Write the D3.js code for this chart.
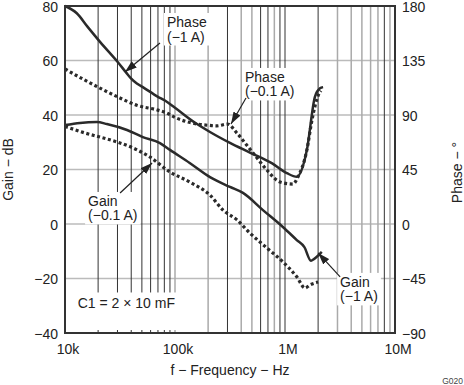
<!DOCTYPE html>
<html>
<head>
<meta charset="utf-8">
<script src="https://cdn.jsdelivr.net/npm/d3@7"></script>
<style>
  body { margin: 0; background: #fff; }
  text { font-family: "Liberation Sans", Arial, sans-serif; fill: #222; }
</style>
</head>
<body>
<div id="chart"></div>
<script>
// axis ticks and labels
var gainTicks = [-40, -20, 0, 20, 40, 60, 80];
var phaseTicks = [-90, -45, 0, 45, 90, 135, 180];
var freqTicks = [1e4, 1e5, 1e6, 1e7];
var freqLabels = ["10k", "100k", "1M", "10M"];

// Phase (-1 A), solid
var phase1F = [10e3, 12.8e3, 16e3, 21e3, 30e3, 36e3, 40e3, 45e3, 51e3, 70e3, 81e3, 100e3, 150e3, 208e3, 316e3, 480e3, 765e3, 1.04e6, 1.28e6, 1.58e6, 1.87e6, 2.08e6, 2.22e6];
var phase1V = [180, 174, 163, 150, 134, 125, 120, 116, 113, 105, 102, 96, 84, 76, 67, 59, 50, 42, 39, 61, 105, 112, 113];

// Phase (-0.1 A), dotted
var phase01F = [10e3, 15e3, 21e3, 30e3, 45e3, 70e3, 84e3, 100e3, 150e3, 200e3, 240e3, 300e3, 366e3, 450e3, 557e3, 684e3, 900e3, 1.18e6, 1.31e6, 1.58e6, 1.76e6, 2.0e6, 2.12e6];
var phase01V = [128, 119, 112, 105, 98, 94, 91.6, 88, 83, 81.5, 81, 82.5, 75, 65, 54.5, 44.6, 34.7, 33, 38.8, 61, 86, 106, 110];

// Gain (-1 A), solid
var gain1F = [10e3, 13.7e3, 19.5e3, 24e3, 36.6e3, 51e3, 73e3, 90e3, 136e3, 208e3, 316e3, 415e3, 630e3, 957e3, 1.28e6, 1.5e6, 1.72e6, 1.78e6, 2.16e6];
var gain1V = [36.3, 37.1, 37.4, 36.7, 34.5, 31.9, 29.7, 27.2, 22.4, 17.2, 13.6, 11.4, 5.1, -1.1, -5.9, -8.5, -13.5, -13.2, -10.2];

// Gain (-0.1 A), dotted
var gain01F = [10e3, 11.1e3, 15.2e3, 20.8e3, 29.7e3, 41.5e3, 59e3, 90e3, 136e3, 208e3, 273e3, 366e3, 479e3, 684e3, 957e3, 1.28e6, 1.52e6, 1.68e6, 2.0e6];
var gain01V = [35.8, 35.2, 33.4, 31.9, 30.1, 27.9, 24.6, 19.1, 15.4, 10.6, 5.1, 1.5, -3.3, -8.8, -13.9, -19.4, -23.5, -22.4, -21.3];

// vertical grid lines that print darker in the original
var darkGrid = [2e4, 3e4, 4e4, 5e4, 6e4, 7e4, 8e4, 9e4, 3e5, 6e5, 7e5, 9e5, 1e6, 2e6, 8e6];

var width = 464, height = 385;
var pL = 65, pR = 395, pT = 6, pB = 333;

var svg = d3.select("#chart").append("svg")
  .attr("width", width)
  .attr("height", height);

var x = d3.scaleLog().domain([1e4, 1e7]).range([pL, pR]);
var yGain = d3.scaleLinear().domain([-40, 80]).range([pB, pT]);
var yPhase = d3.scaleLinear().domain([-90, 180]).range([pB, pT]);

// grid: horizontal
svg.append("g").selectAll("line").data(gainTicks.slice(1, -1)).enter()
  .append("line")
  .attr("x1", pL).attr("x2", pR)
  .attr("y1", function(d) { return yGain(d); })
  .attr("y2", function(d) { return yGain(d); })
  .attr("stroke", "#bbb").attr("stroke-width", 1.5);

// grid: vertical, every minor decade step
var vLines = [];
[1e4, 1e5, 1e6].forEach(function(dec) {
  for (var k = 1; k <= 9; k++) {
    if (dec * k > 1e4) vLines.push(dec * k);
  }
});
function isDark(d) {
  return darkGrid.some(function(g) { return Math.abs(g - d) / d < 1e-6; });
}
svg.append("g").selectAll("line").data(vLines).enter()
  .append("line")
  .attr("x1", function(d) { return x(d); })
  .attr("x2", function(d) { return x(d); })
  .attr("y1", pT).attr("y2", pB)
  .attr("stroke", function(d) { return isDark(d) ? "#333" : "#aaa"; })
  .attr("stroke-width", function(d) { return isDark(d) ? 1 : 1.5; });

// annotations: tip in data space, tail and text offset in pixels
var notes = [
  { lines: ["Phase", "(\u22121 A)"], f: 35.1e3, v: 125.5, axis: "phase", tail: [35, -29], txt: [42, -45] },
  { lines: ["Phase", "(\u22120.1 A)"], f: 323e3, v: 82.6, axis: "phase", tail: [15, -26], txt: [14, -42] },
  { lines: ["Gain", "(\u22120.1 A)"], f: 61.9e3, v: 22.4, axis: "gain", tail: [-32, 30], txt: [-64, 43] },
  { lines: ["Gain", "(\u22121 A)"], f: 2.0e6, v: -10.6, axis: "gain", tail: [22, 24], txt: [22, 34] }
];

var noteG = svg.append("g");
notes.forEach(function(n) {
  var tx = x(n.f), ty = (n.axis === "phase" ? yPhase : yGain)(n.v);
  var g = noteG.append("g");
  var bg = g.append("rect").attr("fill", "#fff");
  var t = g.append("text").attr("font-size", 14);
  n.lines.forEach(function(s, i) {
    t.append("tspan")
      .attr("x", tx + n.txt[0])
      .attr("y", ty + n.txt[1] + i * 14.5)
      .text(s);
  });
  var bb = t.node().getBBox();
  bg.attr("x", bb.x - 3).attr("y", bb.y - 1)
    .attr("width", bb.width + 6).attr("height", bb.height + 2);
  n.px = [tx, ty];
});

// C1 note box
var c1 = svg.append("g");
var c1bg = c1.append("rect").attr("fill", "#fff");
var c1t = c1.append("text")
  .attr("x", x(1.2e4) + 4)
  .attr("y", yGain(-31))
  .attr("font-size", 14)
  .text("C1 = 2 \u00d7 10 mF");
var cb = c1t.node().getBBox();
c1bg.attr("x", cb.x - 5).attr("y", cb.y - 3)
  .attr("width", cb.width + 20).attr("height", pB - 3 - (cb.y - 3));

// curves
function series(fs, vs) {
  return fs.map(function(f, i) { return [f, vs[i]]; });
}
var lineGain = d3.line()
  .x(function(d) { return x(d[0]); })
  .y(function(d) { return yGain(d[1]); })
  .curve(d3.curveMonotoneX);
var linePhase = d3.line()
  .x(function(d) { return x(d[0]); })
  .y(function(d) { return yPhase(d[1]); })
  .curve(d3.curveMonotoneX);

var curves = svg.append("g").attr("fill", "none").attr("stroke", "#2a2a2a");
curves.append("path").attr("d", linePhase(series(phase1F, phase1V))).attr("stroke-width", 2.5);
curves.append("path").attr("d", lineGain(series(gain1F, gain1V))).attr("stroke-width", 2.5);
curves.append("path").attr("d", linePhase(series(phase01F, phase01V)))
  .attr("stroke-width", 3.2).attr("stroke-dasharray", "3,2.6");
curves.append("path").attr("d", lineGain(series(gain01F, gain01V)))
  .attr("stroke-width", 3.2).attr("stroke-dasharray", "3,2.6");

// arrows
svg.append("defs").append("marker")
  .attr("id", "head")
  .attr("viewBox", "0 0 12 8")
  .attr("refX", 12).attr("refY", 4)
  .attr("markerWidth", 12).attr("markerHeight", 8)
  .attr("markerUnits", "userSpaceOnUse")
  .attr("orient", "auto")
  .append("path").attr("d", "M0,0L12,4L0,8Z").attr("fill", "#222");

notes.forEach(function(n) {
  svg.append("line")
    .attr("x1", n.px[0] + n.tail[0]).attr("y1", n.px[1] + n.tail[1])
    .attr("x2", n.px[0]).attr("y2", n.px[1])
    .attr("stroke", "#222").attr("stroke-width", 1.2)
    .attr("marker-end", "url(#head)");
});

// frame
svg.append("rect")
  .attr("x", pL).attr("y", pT)
  .attr("width", pR - pL).attr("height", pB - pT)
  .attr("fill", "none").attr("stroke", "#333").attr("stroke-width", 2);

// tick labels
svg.append("g").selectAll("text").data(gainTicks).enter()
  .append("text")
  .attr("x", pL - 7)
  .attr("y", function(d) { return yGain(d); })
  .attr("dy", "0.42em")
  .attr("text-anchor", "end")
  .attr("font-size", 14)
  .text(function(d) { return d < 0 ? "\u2212" + Math.abs(d) : d; });

svg.append("g").selectAll("text").data(phaseTicks).enter()
  .append("text")
  .attr("x", pR + 7)
  .attr("y", function(d) { return yPhase(d); })
  .attr("dy", "0.42em")
  .attr("font-size", 14)
  .text(function(d) { return d < 0 ? "\u2212" + Math.abs(d) : d; });

svg.append("g").selectAll("text").data(freqTicks).enter()
  .append("text")
  .attr("x", function(d) { return x(d) + 3; })
  .attr("y", pB + 21)
  .attr("text-anchor", "middle")
  .attr("font-size", 14)
  .text(function(d, i) { return freqLabels[i]; });

// axis titles
svg.append("text")
  .attr("transform", "translate(13," + (pT + pB) / 2 + ")rotate(-90)")
  .attr("text-anchor", "middle")
  .attr("font-size", 14)
  .text("Gain \u2212 dB");

svg.append("text")
  .attr("transform", "translate(462," + ((pT + pB) / 2 + 3) + ")rotate(-90)")
  .attr("text-anchor", "middle")
  .attr("font-size", 14)
  .text("Phase \u2212 \u00b0");

svg.append("text")
  .attr("x", (pL + pR) / 2)
  .attr("y", 375)
  .attr("text-anchor", "middle")
  .attr("font-size", 14)
  .text("f \u2212 Frequency \u2212 Hz");

svg.append("text")
  .attr("x", 463).attr("y", 384)
  .attr("text-anchor", "end")
  .attr("font-size", 8.5)
  .style("fill", "#444")
  .text("G020");
</script>
</body>
</html>
